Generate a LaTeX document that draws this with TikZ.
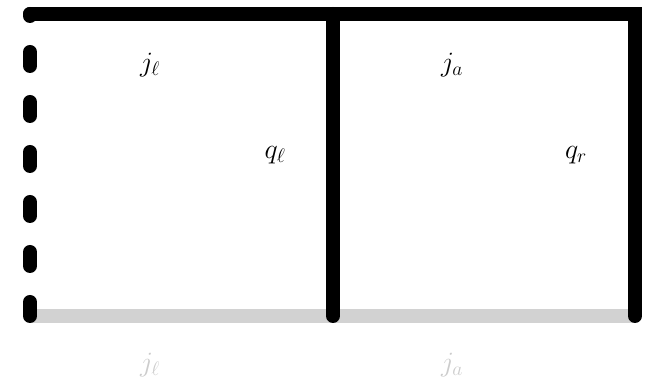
\RequirePackage{fix-cm}
\documentclass[tikz,border=0pt]{standalone}
\begin{document}
\begin{tikzpicture}[x=1pt,y=1pt,
  lbl/.style={inner sep=0pt,font=\fontsize{28}{34}\selectfont},
  graylbl/.style={lbl,text=gray!40},
  thick line/.style={line width=14pt}]
\useasboundingbox (0,0) rectangle (648,390);
\coordinate (bl) at (30,74);
\coordinate (tl) at (30,376);
\coordinate (tm) at (333,376);
\coordinate (bm) at (333,74);
\coordinate (tr) at (635,376);
\coordinate (br) at (635,74);
\draw[thick line,gray!35] (bl) -- (br);
\draw[thick line,line cap=round,dash pattern=on 14pt off 36pt] (bl) -- (tl);
\draw[thick line,line cap=round,line join=miter] (tl) -- (tr) -- (br);
\draw[thick line,line cap=round] (tm) -- (bm);
\node[lbl] (jl) at (150,325) {$j_\ell$};
\node[lbl] (ja) at (452,325) {$j_a$};
\node[lbl] (ql) at (275,235) {$q_\ell$};
\node[lbl] (qr) at (576,235) {$q_r$};
\node[graylbl] (gjl) at (150,25) {$j_\ell$};
\node[graylbl] (gja) at (452,25) {$j_a$};
\end{tikzpicture}
\end{document}
